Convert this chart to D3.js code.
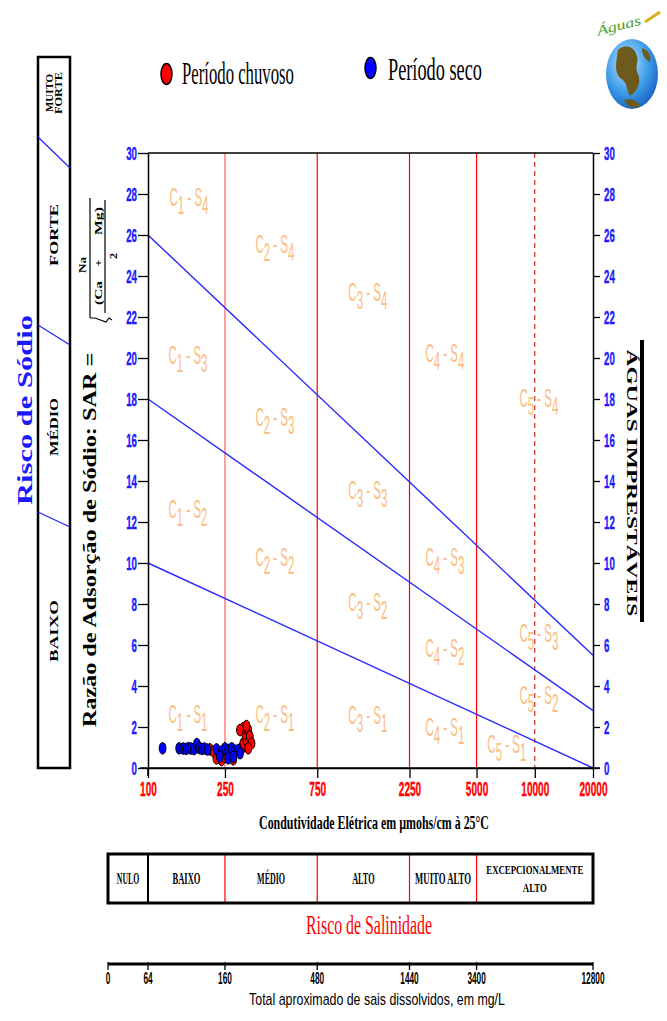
<!DOCTYPE html>
<html>
<head>
<meta charset="utf-8">
<script src="https://cdn.jsdelivr.net/npm/d3@7"></script>
<style>
  body { margin: 0; background: #fff; }
</style>
</head>
<body>
<svg id="chart" width="667" height="1021"></svg>
<script>
// eixo x: condutividade elétrica (µmhos/cm a 25°C)
const ecTicks = [100, 250, 750, 2250, 5000, 10000, 20000];
const ecLimits = [250, 750, 2250, 5000];      // limites das classes C (linhas vermelhas)
const ecDashed = [10000];
// eixo y: SAR
const sarTicks = d3.range(0, 31, 2);
// total de sais dissolvidos, alinhado com ecTicks (sem o 10000)
const tdsValues = [64, 160, 480, 1440, 3400, 12800];
const tdsEc = [100, 250, 750, 2250, 5000, 20000];

// faixas de risco de salinidade (limites em EC)
const salinityNames = ["NULO", "BAIXO", "MÉDIO", "ALTO", "MUITO ALTO", "EXCEPCIONALMENTE|ALTO"];
const salinityEnds = [100, 250, 750, 2250, 5000, 20000];

// retas que separam as classes S1..S4: [EC, SAR] nas duas pontas
const sodiumLines = [
  [[100, 10], [20000, 0]],
  [[100, 18], [20000, 2.8]],
  [[100, 26], [20000, 5.5]]
];

// rótulos das classes: [C, S, EC, SAR]
const classLabels = [
  [1, 4, 163, 27.4], [2, 4, 453, 25.1], [3, 4, 1370, 22.8],
  [1, 3, 161, 19.7], [2, 3, 453, 16.7], [3, 3, 1370, 13.1],
  [4, 4, 3430, 19.8], [5, 4, 10500, 17.6],
  [1, 2, 161, 12.2], [2, 2, 453, 9.85], [3, 2, 1370, 7.66],
  [4, 3, 3430, 9.85], [5, 3, 10500, 6.15], [4, 2, 3430, 5.4],
  [5, 2, 10500, 3.1],
  [1, 1, 161, 2.2], [2, 1, 453, 2.2], [3, 1, 1370, 2.15],
  [4, 1, 3430, 1.56], [5, 1, 7170, 0.75]
];

// amostras - período chuvoso
const chuvosoEC = [209, 219, 226, 240, 250, 276, 305, 311, 323, 317, 311, 330, 336, 343, 330, 323, 299];
const chuvosoSAR = [0.91, 0.8, 0.47, 0.39, 0.55, 0.42, 0.96, 1.2, 1.37, 1.69, 1.94, 1.85, 1.53, 1.2, 0.96, 2.05, 1.85];
// amostras - período seco
const secoEC = [119, 145, 152, 157, 162, 167, 173, 179, 184, 190, 196, 203,
  226, 240, 250, 260, 271, 281, 293, 235, 260, 276, 299];
const secoSAR = [0.96, 0.96, 0.95, 0.93, 0.97, 0.95, 0.92, 1.17, 0.97, 0.93, 0.95, 0.9,
  0.91, 0.8, 0.96, 0.88, 0.96, 0.85, 0.88, 0.55, 0.47, 0.55, 0.72];

const SERIF = "'Liberation Serif', 'Times New Roman', serif";
const SANS = "'Liberation Sans', Arial, sans-serif";

const svg = d3.select("#chart");

const x = d3.scaleLog().domain([100, 20000]).range([148, 593]);
const y = d3.scaleLinear().domain([0, 30]).range([768, 153]);
const tableLeft = 108;

// texto esticado/condensado até a largura pedida (a figura original é bem condensada)
const label = (parent, str, px, py, o) => {
  const t = parent.append("text")
    .attr("font-family", o.font || SERIF)
    .attr("font-size", o.size)
    .attr("font-weight", o.weight || "bold")
    .attr("fill", o.fill || "#000")
    .attr("text-anchor", o.anchor || "middle")
    .text(str);
  const sx = o.len ? o.len / t.node().getComputedTextLength() : 1;
  t.attr("transform", `translate(${px},${py}) rotate(${o.rotate || 0}) scale(${sx},1)`);
  return t;
};

// ---- legenda
const legend = [["Período chuvoso", "#ff0000", 166.5, 74, 182, 84, 112], ["Período seco", "#0000ff", 370.5, 68, 388, 80, 94]];
legend.forEach(([name, col, cx, cy, tx, ty, w]) => {
  svg.append("ellipse").attr("cx", cx).attr("cy", cy).attr("rx", 5.5).attr("ry", 10.5)
    .attr("fill", col).attr("stroke", "#000").attr("stroke-width", 1.5);
  label(svg, name, tx, ty, { size: 31, weight: "normal", anchor: "start", len: w });
});

// ---- logo
const defs = svg.append("defs");
const grad = defs.append("radialGradient").attr("id", "globe").attr("cx", "40%").attr("cy", "35%").attr("r", "70%");
grad.append("stop").attr("offset", "0%").attr("stop-color", "#bfe8ff");
grad.append("stop").attr("offset", "60%").attr("stop-color", "#3d9be9");
grad.append("stop").attr("offset", "100%").attr("stop-color", "#1560c0");
const logo = svg.append("g");
logo.append("ellipse").attr("cx", 632).attr("cy", 74).attr("rx", 26).attr("ry", 35).attr("fill", "url(#globe)");
logo.append("path").attr("fill", "#6e5a1a")
  .attr("d", "M618,50 C624,44 634,46 636,54 C640,60 634,66 638,74 C642,84 636,92 630,96 C626,90 628,82 620,78 C614,72 616,62 618,50 Z");
logo.append("path").attr("fill", "#6e5a1a")
  .attr("d", "M642,48 C648,50 652,56 650,62 C646,60 642,56 642,48 Z M624,100 C630,98 638,100 640,106 C634,109 628,108 624,100 Z");
label(logo, "Águas", 620, 30, { font: SERIF, size: 14, weight: "normal", fill: "#4aa02c", len: 46, rotate: -14 })
  .attr("font-style", "italic");
logo.append("line").attr("x1", 645).attr("y1", 22).attr("x2", 660).attr("y2", 12)
  .attr("stroke", "#d8b020").attr("stroke-width", 3);

// ---- caixa de risco de sódio (esquerda)
const box = svg.append("g");
box.append("rect").attr("x", 38).attr("y", 57).attr("width", 32).attr("height", 711)
  .attr("fill", "none").attr("stroke", "#000").attr("stroke-width", 2.5);
[[137, 168], [325, 345], [512, 527]].forEach(([a, b]) => {
  box.append("line").attr("x1", 38).attr("y1", a).attr("x2", 70).attr("y2", b)
    .attr("stroke", "#2020ff").attr("stroke-width", 1.2);
});
label(box, "MUITO", 53, 93, { size: 10, len: 38, rotate: -90 });
label(box, "FORTE", 62, 93, { size: 10, len: 42, rotate: -90 });
label(box, "FORTE", 58, 235, { size: 12, len: 62, rotate: -90 });
label(box, "MÉDIO", 58, 427, { size: 12, len: 58, rotate: -90 });
label(box, "BAIXO", 58, 631, { size: 12, len: 62, rotate: -90 });
label(svg, "Risco de Sódio", 32, 410, { size: 20, fill: "#1a1aff", len: 190, rotate: -90 });

// ---- título do eixo y com a fórmula do SAR
label(svg, "Razão de Adsorção de Sódio: SAR =", 96, 540, { size: 18, len: 375, rotate: -90 });
label(svg, "Na", 86, 265, { size: 11, len: 16, rotate: -90 });
svg.append("line").attr("x1", 90).attr("y1", 198).attr("x2", 90).attr("y2", 318)
  .attr("stroke", "#000").attr("stroke-width", 1.2);
label(svg, "(Ca", 102, 293, { size: 11, len: 24, rotate: -90 });
label(svg, "+", 102, 263, { size: 11, len: 7, rotate: -90 });
label(svg, "Mg)", 102, 221, { size: 11, len: 28, rotate: -90 });
svg.append("line").attr("x1", 105).attr("y1", 200).attr("x2", 105).attr("y2", 313)
  .attr("stroke", "#000").attr("stroke-width", 1.2);
label(svg, "2", 117, 256, { size: 11, len: 6, rotate: -90 });
svg.append("path").attr("d", "M90,318 L95,318 L106,322 L109,318 L112,320")
  .attr("fill", "none").attr("stroke", "#000").attr("stroke-width", 1.2);

// ---- grade: linhas de classe C
const plot = svg.append("g");
ecLimits.forEach(v => {
  plot.append("line").attr("x1", x(v)).attr("x2", x(v)).attr("y1", y(30)).attr("y2", y(0))
    .attr("stroke", v === 250 ? "#ff6060" : "#ff0000").attr("stroke-width", 1.2);
});
ecDashed.forEach(v => {
  plot.append("line").attr("x1", x(v)).attr("x2", x(v)).attr("y1", y(30)).attr("y2", y(0))
    .attr("stroke", "#cc0000").attr("stroke-width", 1).attr("stroke-dasharray", "5,4");
});

// retas de classe S
const lineGen = d3.line().x(d => x(d[0])).y(d => y(d[1]));
plot.selectAll(".sodium").data(sodiumLines).join("path")
  .attr("class", "sodium").attr("d", lineGen)
  .attr("fill", "none").attr("stroke", "#2828ff").attr("stroke-width", 1.4);

// rótulos C-S
classLabels.forEach(([c, s, ec, sar]) => {
  const g = plot.append("g").attr("transform", `translate(${x(ec)},${y(sar)}) scale(0.46,1)`);
  const t = g.append("text").attr("text-anchor", "middle")
    .attr("font-family", SANS).attr("font-size", 25).attr("fill", "#fbbd80");
  t.append("tspan").text("C");
  t.append("tspan").attr("dy", 8).text(c);
  t.append("tspan").attr("dy", -8).text(" - S");
  t.append("tspan").attr("dy", 8).text(s);
});

// ---- eixos
const styleTicks = (g, fill, w, size) => {
  g.selectAll("text")
    .attr("font-family", SANS).attr("font-size", size).attr("font-weight", "bold")
    .attr("fill", fill).attr("stroke", fill).attr("stroke-width", 0.4)
    .attr("textLength", d => String(d).length * w).attr("lengthAdjust", "spacingAndGlyphs");
  g.selectAll("line").attr("stroke", "#000").attr("stroke-width", 1.3);
  g.select(".domain").attr("stroke", "#000").attr("stroke-width", 1.5);
};

const gLeft = svg.append("g").attr("transform", "translate(148,0)")
  .call(d3.axisLeft(y).tickValues(sarTicks).tickSize(10).tickSizeOuter(0).tickPadding(1));
styleTicks(gLeft, "#1a1aff", 5.4, 19);

const gRight = svg.append("g").attr("transform", "translate(593,0)")
  .call(d3.axisRight(y).tickValues(sarTicks).tickSize(7).tickSizeOuter(0).tickPadding(4));
styleTicks(gRight, "#1a1aff", 5.4, 19);

const gBottom = svg.append("g").attr("transform", "translate(0,768)")
  .call(d3.axisBottom(x).tickValues(ecTicks).tickFormat(d3.format("d")).tickSize(10).tickSizeOuter(0).tickPadding(4));
styleTicks(gBottom, "#ff0000", 5.6, 20);
gBottom.append("line").attr("x1", 140).attr("x2", 600).attr("stroke", "#000").attr("stroke-width", 1.5);
gLeft.append("line").attr("y1", y(0)).attr("y2", y(0) + 8).attr("stroke", "#000").attr("stroke-width", 1.5);

svg.append("line").attr("x1", 148).attr("x2", 593).attr("y1", y(30)).attr("y2", y(30))
  .attr("stroke", "#000").attr("stroke-width", 1.5);

label(svg, "Condutividade Elétrica em µmohs/cm à 25°C", 374, 829, { size: 19, len: 230 });

// ---- águas imprestáveis
label(svg, "ÁGUAS IMPRESTÁVEIS", 627, 483, { size: 14, len: 267, rotate: 90 });
svg.append("rect").attr("x", 640).attr("y", 340).attr("width", 4).attr("height", 282).attr("fill", "#000");

// ---- amostras
const pts = svg.append("g");
const drawPts = (ecs, sars, col) => {
  pts.selectAll(null).data(d3.zip(ecs, sars)).join("ellipse")
    .attr("cx", d => x(d[0])).attr("cy", d => y(d[1]))
    .attr("rx", 3.4).attr("ry", 5.8)
    .attr("fill", col).attr("stroke", "#000").attr("stroke-width", 1);
};
drawPts(chuvosoEC, chuvosoSAR, "#ff0000");
drawPts(secoEC, secoSAR, "#0000ff");

// ---- tabela de risco de salinidade
const table = svg.append("g");
const tTop = 854, tBot = 903;
salinityEnds.forEach((end, i) => {
  const x0 = i === 0 ? tableLeft : x(salinityEnds[i - 1]);
  const x1 = x(end);
  if (i > 0) {
    table.append("line").attr("x1", x0).attr("x2", x0).attr("y1", tTop).attr("y2", tBot)
      .attr("stroke", i === 1 ? "#000" : "#ff0000").attr("stroke-width", i === 1 ? 2 : 1.2);
  }
  const parts = salinityNames[i].split("|");
  const cx = (x0 + x1) / 2;
  if (parts.length === 1) {
    label(table, parts[0], cx, 884, { size: 16, len: parts[0].length * 5.6 });
  } else {
    label(table, parts[0], cx, 874, { size: 13, len: 97 });
    label(table, parts[1], cx, 892, { size: 13, len: 24 });
  }
});
table.append("rect").attr("x", tableLeft).attr("y", tTop).attr("width", x(20000) - tableLeft).attr("height", tBot - tTop)
  .attr("fill", "none").attr("stroke", "#000").attr("stroke-width", 3);

label(svg, "Risco de Salinidade", 369, 934, { size: 28, weight: "normal", fill: "#ff0000", len: 126 });

// ---- eixo de sais dissolvidos
const tds = svg.append("g");
tds.append("line").attr("x1", tableLeft).attr("x2", x(20000)).attr("y1", 964).attr("y2", 964)
  .attr("stroke", "#000").attr("stroke-width", 3);
const tdsPos = [tableLeft].concat(tdsEc.map(v => x(v)));
const tdsText = [0].concat(tdsValues);
tdsPos.forEach((px, i) => {
  tds.append("line").attr("x1", px).attr("x2", px).attr("y1", 962).attr("y2", 970)
    .attr("stroke", "#000").attr("stroke-width", 1.3);
  label(tds, String(tdsText[i]), px, 984, { font: SANS, size: 16, len: String(tdsText[i]).length * 4.6 });
});
label(svg, "Total aproximado de sais dissolvidos, em mg/L", 377, 1005, { font: SANS, size: 17, weight: "normal", len: 256 });
</script>
</body>
</html>
